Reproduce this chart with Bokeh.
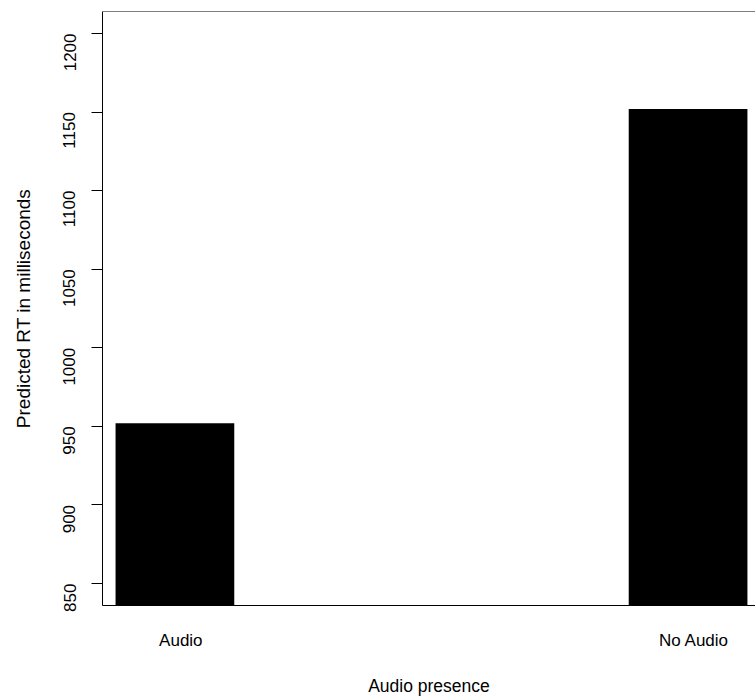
import math
from bokeh.plotting import figure
from bokeh.models import Range1d, FixedTicker, Span
from bokeh.embed import file_html
from bokeh.resources import INLINE

# Data
categories = ["Audio", "No Audio"]
predicted_rt = [952, 1152]
y_ticks = [850, 900, 950, 1000, 1050, 1100, 1150, 1200]
x_title = "Audio presence"
y_title = "Predicted RT in milliseconds"

# Layout constants (bar width = 1 unit)
bar_width = 1.0
first_center = 0.61
spacing = 4.323
label_shift = 0.05
x_positions = [first_center + i * spacing for i in range(len(categories))]
label_positions = [x + label_shift for x in x_positions]

FONT = "Liberation Sans"

p = figure(width=755, height=698, output_backend="svg", toolbar_location=None,
           x_range=Range1d(0, 5.501), y_range=Range1d(836, 1214),
           min_border_left=102, min_border_right=0, min_border_top=11, min_border_bottom=93,
           x_axis_location="below", y_axis_location="left")
p.outline_line_color = None
p.grid.visible = False
p.background_fill_color = "white"
p.border_fill_color = "white"

p.vbar(x=x_positions, top=predicted_rt, bottom=0, width=bar_width,
       fill_color="black", line_color=None)

# Top line of the box
p.add_layout(Span(location=1214, dimension="width", line_color="black", line_width=1))

# Y axis
ya = p.yaxis[0]
ya.ticker = FixedTicker(ticks=y_ticks)
ya.major_tick_out = 11
ya.major_tick_in = 0
ya.minor_tick_out = 0
ya.minor_tick_in = 0
ya.major_label_orientation = math.pi / 2
ya.major_label_standoff = 22
ya.major_label_text_font = FONT
ya.major_label_text_font_size = "17px"
ya.major_label_text_color = "black"
ya.axis_line_color = "black"
ya.major_tick_line_color = "black"
ya.axis_label = y_title
ya.axis_label_text_font = FONT
ya.axis_label_text_font_size = "19px"
ya.axis_label_text_font_style = "normal"
ya.axis_label_text_color = "black"
ya.axis_label_standoff = 21

# X axis
xa = p.xaxis[0]
xa.ticker = FixedTicker(ticks=label_positions)
xa.major_label_overrides = {pos: name for pos, name in zip(label_positions, categories)}
xa.major_tick_out = 0
xa.major_tick_in = 0
xa.minor_tick_out = 0
xa.minor_tick_in = 0
xa.major_label_standoff = 25
xa.major_label_text_font = FONT
xa.major_label_text_font_size = "17px"
xa.major_label_text_color = "black"
xa.axis_line_color = "black"
xa.axis_label = x_title
xa.axis_label_text_font = FONT
xa.axis_label_text_font_size = "17.5px"
xa.axis_label_text_font_style = "normal"
xa.axis_label_text_color = "black"
xa.axis_label_standoff = 23

open("out.html", "w").write(file_html(p, INLINE))
